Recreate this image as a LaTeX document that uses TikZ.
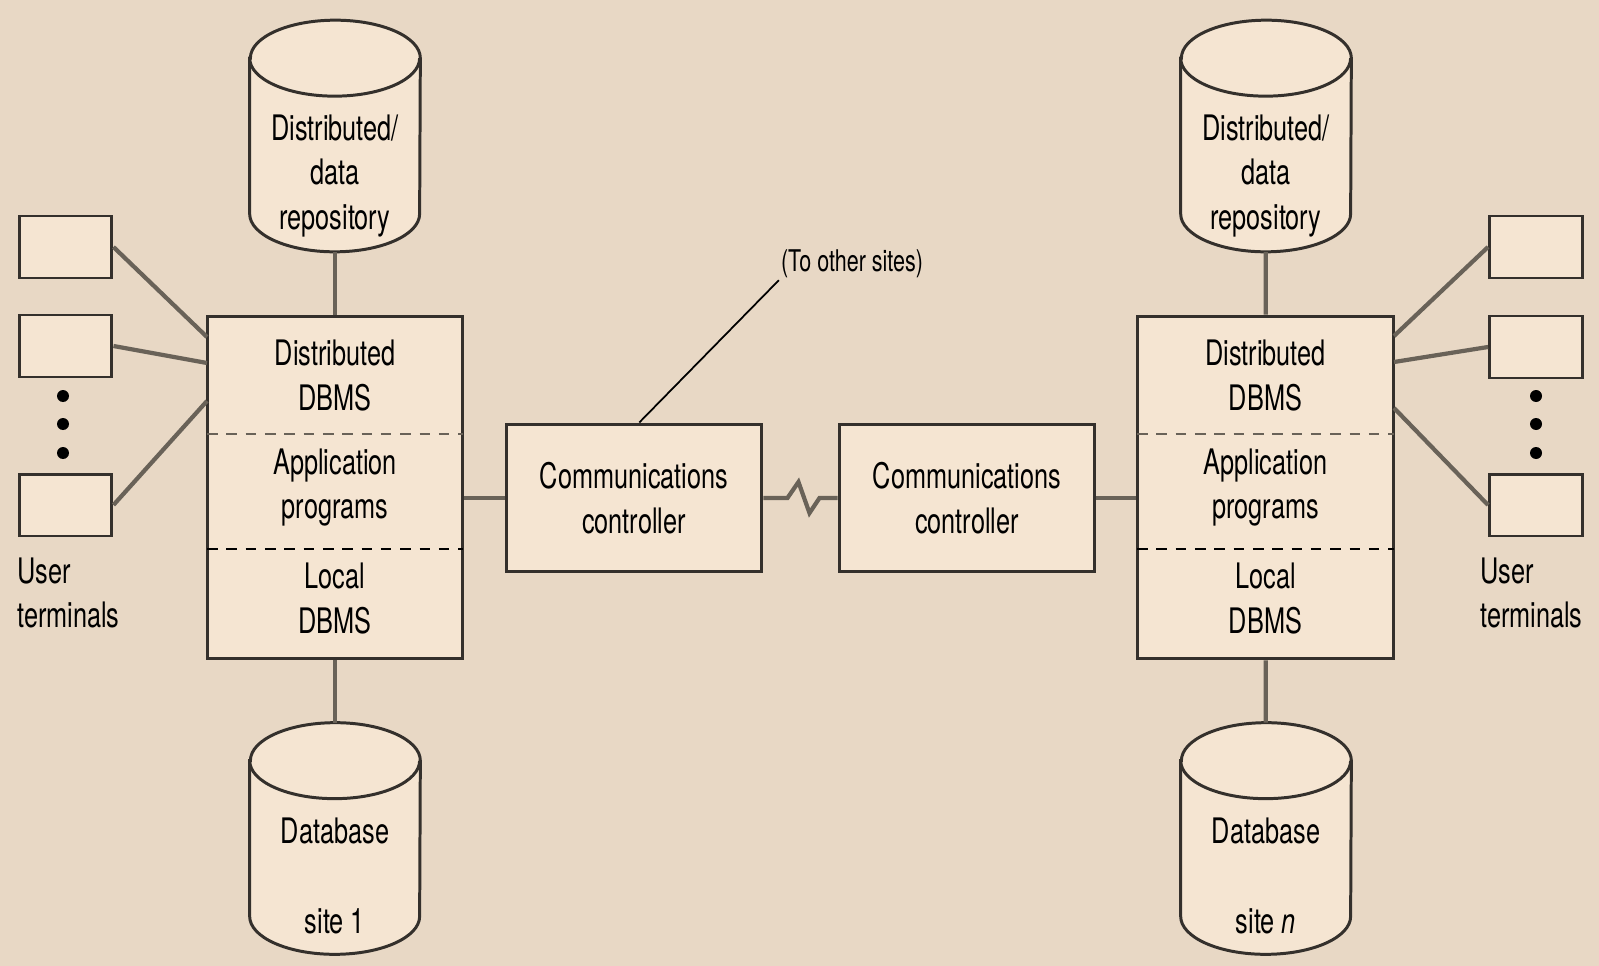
\documentclass[tikz,border=0pt]{standalone}
\usepackage{fontspec}
\setmainfont[FakeStretch=0.72]{TeX Gyre Heros}
\usepackage{tikz}

\definecolor{bgtan}{RGB}{232,216,197}
\definecolor{boxfill}{RGB}{245,229,210}
\definecolor{linkgray}{RGB}{105,98,88}
\definecolor{edgedark}{RGB}{52,48,44}

\tikzset{
  txt/.style={align=center, inner sep=0pt, font=\fontsize{20}{25.5}\selectfont},
  box/.style={draw=edgedark, line width=1.7pt, fill=boxfill},
  term/.style={box, minimum width=1.86cm, minimum height=1.24cm},
  sitebox/.style={box, minimum width=5.12cm, minimum height=6.86cm},
  commbox/.style={box, txt, minimum width=5.12cm, minimum height=2.96cm},
  store/.style={inner sep=0pt, minimum width=3.4cm, minimum height=4.62cm},
  link/.style={draw=linkgray, line width=2.4pt},
  sep/.style={line width=1.6pt, dash pattern=on 6pt off 5pt}
}

% drum outline round a store node
\newcommand{\drum}[1]{%
  \draw[box] ([yshift=-0.76cm]#1.north west) -- ([yshift=0.76cm]#1.south west)
    arc[start angle=180, end angle=360, x radius=1.7cm, y radius=0.76cm]
    -- ([yshift=-0.76cm]#1.north east)
    arc[start angle=0, end angle=180, x radius=1.7cm, y radius=0.76cm] -- cycle;
  \draw[box, fill=none] ([yshift=-0.76cm]#1.north west)
    arc[start angle=180, end angle=360, x radius=1.7cm, y radius=0.76cm];
}

\begin{document}
\begin{tikzpicture}[x=0.02cm, y=-0.02cm]
\useasboundingbox[fill=bgtan] (0,0) rectangle (1599,966);

% site 1
\node[store] (dL) at (335,136) {};
\drum{dL}
\node[txt] (dLt) at (335,176) {Distributed/\\data\\repository};
\node[sitebox] (sL) at (335,487.5) {};
\draw[sep, linkgray] (207,434) -- (463,434);
\draw[sep, black] (207,549) -- (463,549);
\node[txt] (sL1) at (335,375.5) {Distributed\\DBMS};
\node[txt] (sL2) at (335,487.5) {Application\\programs};
\node[txt] (sL3) at (335,598.5) {Local\\DBMS};
\node[store] (bL) at (335,838.5) {};
\drum{bL}
\node[txt] (bLt) at (335,876) {Database\\[25.5pt]site 1};
\node[term] (tL1) at (65.5,247) {};
\node[term] (tL2) at (65.5,346) {};
\node[term] (tL3) at (65.5,505) {};
\fill (63,396) circle (6) (63,424) circle (6) (63,453) circle (6);
\node[txt, align=left, anchor=west] (uL) at (17,593) {User\\terminals};
\coordinate (aL1) at (207,337);
\coordinate (aL2) at (207,363);
\coordinate (aL3) at (207,401);

% site n
\node[store] (dR) at (1266,136) {};
\drum{dR}
\node[txt] (dRt) at (1266,176) {Distributed/\\data\\repository};
\node[sitebox] (sR) at (1265.5,487.5) {};
\draw[sep, linkgray] (1137,434) -- (1394,434);
\draw[sep, black] (1137,549) -- (1394,549);
\node[txt] (sR1) at (1265.5,375.5) {Distributed\\DBMS};
\node[txt] (sR2) at (1265.5,487.5) {Application\\programs};
\node[txt] (sR3) at (1265.5,598.5) {Local\\DBMS};
\node[store] (bR) at (1266,838.5) {};
\drum{bR}
\node[txt] (bRt) at (1266,876) {Database\\[25.5pt]site \textit{n}};
\node[term] (tR1) at (1536,247) {};
\node[term] (tR2) at (1536,347) {};
\node[term] (tR3) at (1536,505) {};
\fill (1536,396) circle (6) (1536,424) circle (6) (1536,453) circle (6);
\node[txt, align=left, anchor=west] (uR) at (1480,593) {User\\terminals};
\coordinate (aR1) at (1394,336);
\coordinate (aR2) at (1394,362);
\coordinate (aR3) at (1394,408);

% controllers
\node[commbox] (cL) at (634,498) {Communications\\controller};
\node[commbox] (cR) at (967,498) {Communications\\controller};
\node[inner sep=1pt, font=\fontsize{17}{20}\selectfont] (oth) at (852,264) {(To other sites)};

\draw[link] (dL) -- (sL);
\draw[link] (sL) -- (bL);
\draw[link] (tL1.east) -- (aL1);
\draw[link] (tL2.east) -- (aL2);
\draw[link] (tL3.east) -- (aL3);
\draw[link] (dR) -- (sR);
\draw[link] (sR) -- (bR);
\draw[link] (tR1.west) -- (aR1);
\draw[link] (tR2.west) -- (aR2);
\draw[link] (tR3.west) -- (aR3);
\draw[link] (cL.west -| sL.east) -- (cL.west);
\draw[link] (cR.east) -- (cR.east -| sR.west);
\draw[link, line join=miter] (cL.east) -- ++(24,0) -- ++(11,-16) -- ++(11,31) -- ++(10,-15) -- (cR.west);
\draw[line width=1pt] ([xshift=3pt]cL.north) -- (oth.south west);
\end{tikzpicture}
\end{document}
